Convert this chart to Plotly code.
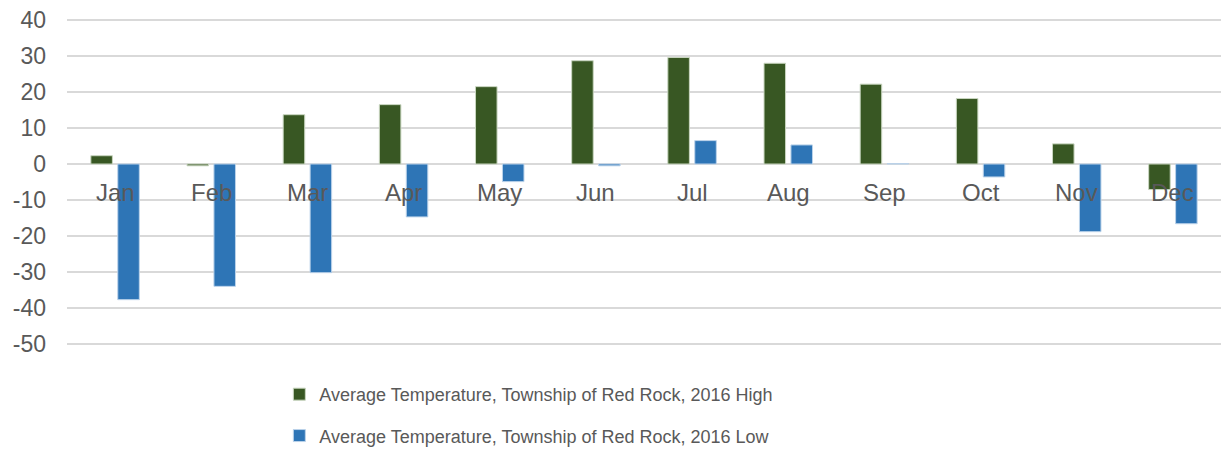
import plotly.graph_objects as go

months = ["Jan", "Feb", "Mar", "Apr", "May", "Jun", "Jul", "Aug", "Sep", "Oct", "Nov", "Dec"]
high = [2.3, -0.5, 13.7, 16.5, 21.5, 28.7, 29.6, 28.0, 22.2, 18.2, 5.6, -7.1]
low = [-37.7, -34.0, -30.2, -14.7, -4.9, -0.5, 6.5, 5.3, 0.1, -3.6, -18.8, -16.6]
y_ticks = [40, 30, 20, 10, 0, -10, -20, -30, -40, -50]

FONT = "Liberation Sans, Arial, sans-serif"
GREY = "#595959"

fig = go.Figure()
fig.add_trace(go.Bar(
    x=months, y=high,
    name="Average Temperature, Township of Red Rock, 2016 High",
    marker=dict(color="#385723", line=dict(color="#c9d6c0", width=1)),
    legendgroup="high",
))
fig.add_trace(go.Bar(
    x=months, y=low,
    name="Average Temperature, Township of Red Rock, 2016 Low",
    marker=dict(color="#2E75B6", line=dict(color="#bcd3ea", width=1)),
    legendgroup="low",
))

# month labels sit just under the zero line, like Excel's "next to axis"
for m in months:
    fig.add_annotation(
        x=m, y=0, text=m, showarrow=False,
        yanchor="top", yshift=-13,
        font=dict(family=FONT, size=24, color=GREY),
    )

fig.update_layout(
    width=1221, height=452,
    paper_bgcolor="white", plot_bgcolor="white",
    margin=dict(l=67, r=0, t=19, b=107, autoexpand=False),
    barmode="group", bargap=0.44, bargroupgap=0.2,
    font=dict(family=FONT, color=GREY),
    legend=dict(
        orientation="v", x=0.184, xanchor="left", y=-0.095, yanchor="top",
        font=dict(family=FONT, size=18, color=GREY),
        tracegroupgap=15, traceorder="grouped",
    ),
)
fig.update_xaxes(showticklabels=False, showgrid=False, showline=False,
                 zeroline=False, automargin=False)
fig.update_yaxes(
    range=[-50.3, 40.3], tickvals=y_ticks, ticktext=[str(v) for v in y_ticks],
    showgrid=True, gridcolor="#D9D9D9", gridwidth=1.5,
    zeroline=True, zerolinecolor="#D9D9D9", zerolinewidth=1.5,
    tickfont=dict(family=FONT, size=23, color=GREY),
    ticklabelstandoff=20, automargin=False,
)

# drop the browser's default 8px body margin so the figure fills the window
fig.write_html("out.html", config={"displayModeBar": False},
               post_script="document.body.style.margin = '0';")
